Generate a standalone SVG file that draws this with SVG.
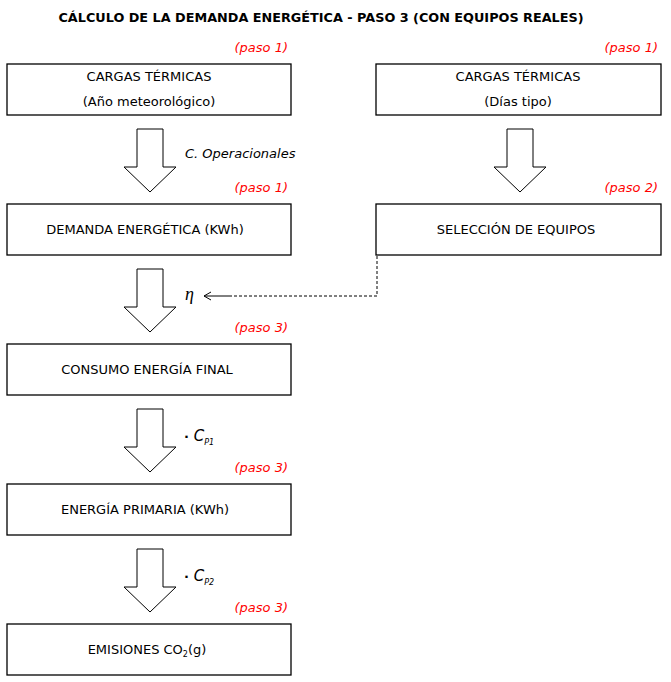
<svg xmlns="http://www.w3.org/2000/svg" width="671" height="682" viewBox="0 0 671 682">
<defs>
<style>
.box{fill:#fff;stroke:#000;stroke-width:1.3}
.arr{fill:#fff;stroke:#000;stroke-width:1}
.t{font-family:"DejaVu Sans","Liberation Sans",sans-serif;font-size:13px;fill:#000;text-anchor:middle}
.title{font-family:"DejaVu Sans","Liberation Sans",sans-serif;font-size:12.8px;font-weight:bold;fill:#000;text-anchor:middle}
.paso{font-family:"DejaVu Sans","Liberation Sans",sans-serif;font-size:13px;font-style:italic;fill:#f00;text-anchor:end}
.lab{font-family:"DejaVu Sans","Liberation Sans",sans-serif;font-size:13px;font-style:italic;fill:#000}
.math{font-family:"DejaVu Sans","Liberation Sans",sans-serif;font-style:italic;fill:#000}
</style>
<marker id="ah" markerWidth="10" markerHeight="10" refX="7" refY="5" orient="auto" markerUnits="userSpaceOnUse">
<path d="M0,1 L7,5 L0,9" fill="none" stroke="#000" stroke-width="1"/>
</marker>
</defs>
<rect width="671" height="682" fill="#fff"/>
<text class="title" x="321" y="22">CÁLCULO DE LA DEMANDA ENERGÉTICA - PASO 3 (CON EQUIPOS REALES)</text>

<g id="n1">
<rect class="box" x="7" y="64" width="284" height="51"/>
<text class="t" x="149" y="81">CARGAS TÉRMICAS</text>
<text class="t" x="149" y="106">(Año meteorológico)</text>
<text class="paso" x="288" y="52">(paso 1)</text>
</g>
<g id="n2">
<rect class="box" x="376" y="64" width="285" height="51"/>
<text class="t" x="518" y="81">CARGAS TÉRMICAS</text>
<text class="t" x="518" y="106">(Días tipo)</text>
<text class="paso" x="658" y="52">(paso 1)</text>
</g>
<g id="n3">
<rect class="box" x="7" y="204" width="284" height="51"/>
<text class="t" x="145" y="234">DEMANDA ENERGÉTICA (KWh)</text>
<text class="paso" x="288" y="192">(paso 1)</text>
</g>
<g id="n4">
<rect class="box" x="376" y="204" width="285" height="51"/>
<text class="t" x="516" y="234">SELECCIÓN DE EQUIPOS</text>
<text class="paso" x="658" y="192">(paso 2)</text>
</g>
<g id="n5">
<rect class="box" x="7" y="344" width="284" height="51"/>
<text class="t" x="147" y="374">CONSUMO ENERGÍA FINAL</text>
<text class="paso" x="288" y="332">(paso 3)</text>
</g>
<g id="n6">
<rect class="box" x="7" y="484" width="284" height="51"/>
<text class="t" x="145" y="514">ENERGÍA PRIMARIA (KWh)</text>
<text class="paso" x="288" y="472">(paso 3)</text>
</g>
<g id="n7">
<rect class="box" x="7" y="624" width="284" height="51"/>
<text class="t" x="147" y="654">EMISIONES CO<tspan font-size="8" dy="3">2</tspan><tspan dy="-3">(g)</tspan></text>
<text class="paso" x="288" y="612">(paso 3)</text>
</g>

<g id="connectors">
<path class="arr" d="M137,129 H163 V167 H176 L150,192 L124,167 H137 Z"/>
<path class="arr" d="M507,129 H533 V167 H546 L520,192 L494,167 H507 Z"/>
<path class="arr" d="M137,269 H163 V307 H176 L150,332 L124,307 H137 Z"/>
<path class="arr" d="M137,409 H163 V447 H176 L150,472 L124,447 H137 Z"/>
<path class="arr" d="M137,549 H163 V587 H176 L150,612 L124,587 H137 Z"/>
<path d="M377,256 V296 H231" fill="none" stroke="#000" stroke-width="1" stroke-dasharray="3,2"/>
<path d="M231,296 H204" fill="none" stroke="#000" stroke-width="1" marker-end="url(#ah)"/>
<text class="lab" x="185" y="158">C. Operacionales</text>
<text x="185" y="300" font-size="18" font-style="italic" font-family="'Liberation Serif','DejaVu Serif',serif">η</text>
<text class="math" x="184" y="441" font-size="15"><tspan font-style="normal" font-weight="bold" font-size="13">·</tspan> C<tspan font-size="8" dy="4">P1</tspan></text>
<text class="math" x="184" y="581" font-size="15"><tspan font-style="normal" font-weight="bold" font-size="13">·</tspan> C<tspan font-size="8" dy="4">P2</tspan></text>
</g>
</svg>
